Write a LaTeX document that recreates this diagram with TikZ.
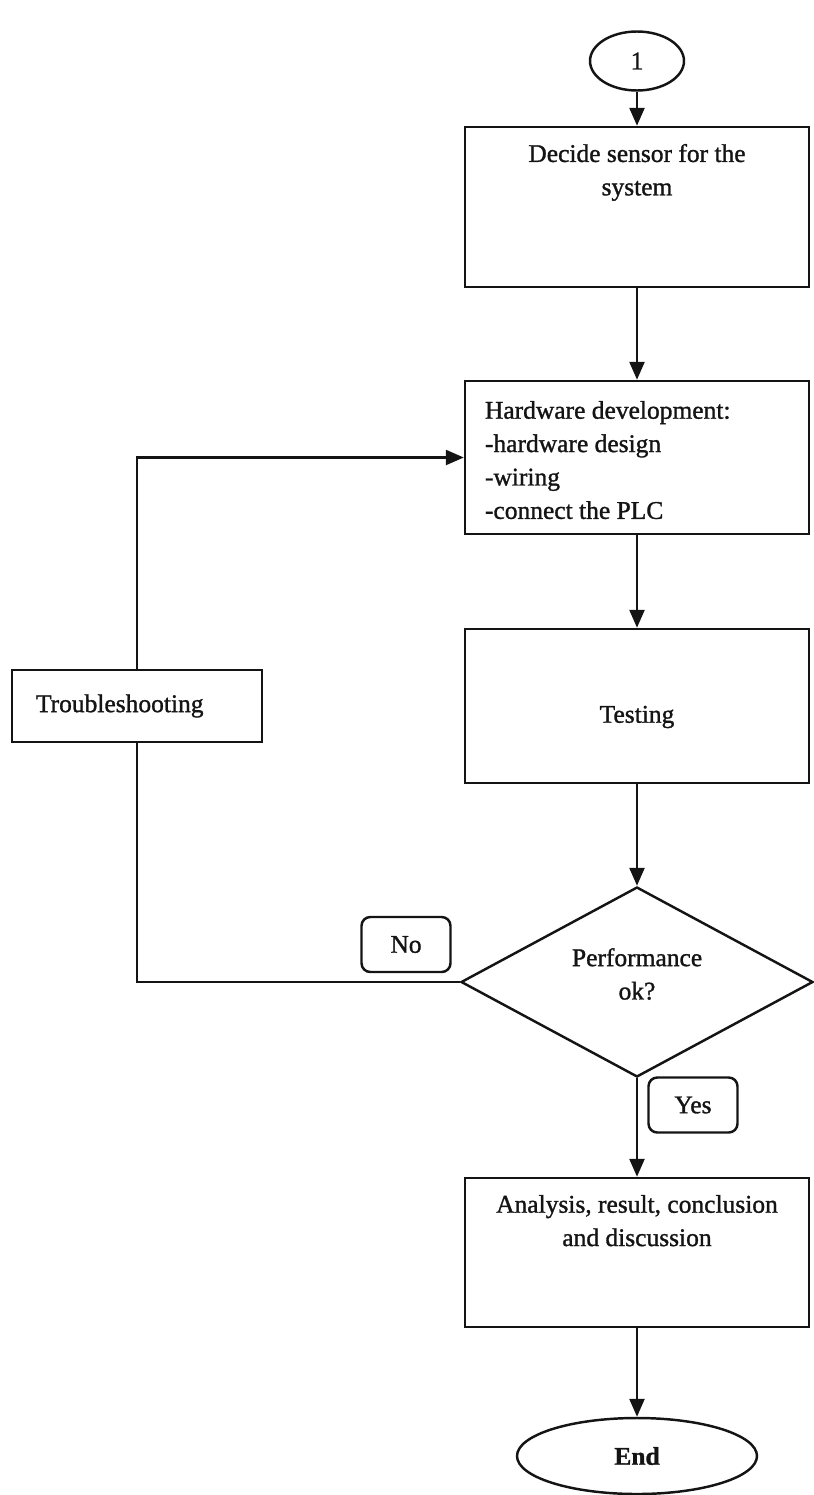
\documentclass[tikz,border=0pt]{standalone}
\usepackage{fontspec}
\setmainfont{Liberation Serif}[RawFeature={embolden=1.2}]
\usepackage{tikz}
\usetikzlibrary{shapes.geometric,arrows.meta,positioning}
\definecolor{ink}{HTML}{141414}

\tikzset{
  procbox/.style={draw=ink, rectangle, line width=1.4pt, inner xsep=0.4cm, inner ysep=0pt},
  labelbox/.style={draw=ink, rectangle, rounded corners=5pt, line width=1.4pt, minimum width=1.78cm, minimum height=1.1cm},
  termnode/.style={draw=ink, ellipse, line width=1.4pt, inner sep=0pt},
  flow/.style={draw=ink, line width=1.4pt, -{Triangle[length=0.36cm,width=0.3cm]}},
  link/.style={draw=ink, line width=1.4pt}
}

\begin{document}
\begin{tikzpicture}[font=\fontsize{14.5}{19}\selectfont, text=ink]
\useasboundingbox (0,0) rectangle (16.28,-29.9);
% Start connector
\node[termnode, minimum width=1.88cm, minimum height=1.18cm] (one) at (12.74,-1.22) {1};
% Process boxes (text at top)
\node[procbox] (decide) at (12.74,-4.14)
  {\parbox[c][3.2cm][t]{6.08cm}{\vspace*{0.34cm}\centering Decide sensor for the\\ system}};
\node[procbox] (hwdev) at (12.74,-9.15)
  {\parbox[c][3.06cm][t]{6.08cm}{\vspace*{0.4cm}\raggedright Hardware development:\\ -hardware design\\ -wiring\\ -connect the PLC}};
\node[procbox, minimum width=6.88cm, minimum height=3.08cm] (testing) at (12.74,-14.12)
  {\raisebox{-0.22cm}[\height][\depth]{Testing}};
\node[procbox, inner xsep=0.48cm, text width=4.04cm, minimum height=1.44cm, align=left] (trouble) at (2.74,-14.12) {Troubleshooting};
% Decision
\node[draw=ink, diamond, aspect=2, line width=1.4pt, minimum width=7.04cm, minimum height=3.8cm, inner sep=0pt] (perf) at (12.74,-19.64)
  {\raisebox{0.16cm}[\height][\depth]{\parbox{2.6cm}{\centering Performance\\ ok?}}};
\node[labelbox] (no) at (8.12,-18.89) {No};
\node[labelbox] (yes) at (13.86,-22.10) {Yes};
% Result and end
\node[procbox] (analysis) at (12.74,-25.05)
  {\parbox[c][2.98cm][t]{6.08cm}{\vspace*{0.34cm}\centering Analysis, result, conclusion\\ and discussion}};
\node[termnode, minimum width=4.8cm, minimum height=1.52cm, font=\fontsize{14.5}{19}\selectfont\bfseries] (endnode) at (12.74,-29.12) {End};
% Main flow
\foreach \a/\b in {one/decide, decide/hwdev, hwdev/testing, testing/perf, perf/analysis, analysis/endnode}
  \draw[flow] (\a) -- (\b);
% Loop back
\draw[link] (perf.west) -| (trouble.south);
\draw[flow] (trouble.north) |- (hwdev.west);
\end{tikzpicture}
\end{document}
